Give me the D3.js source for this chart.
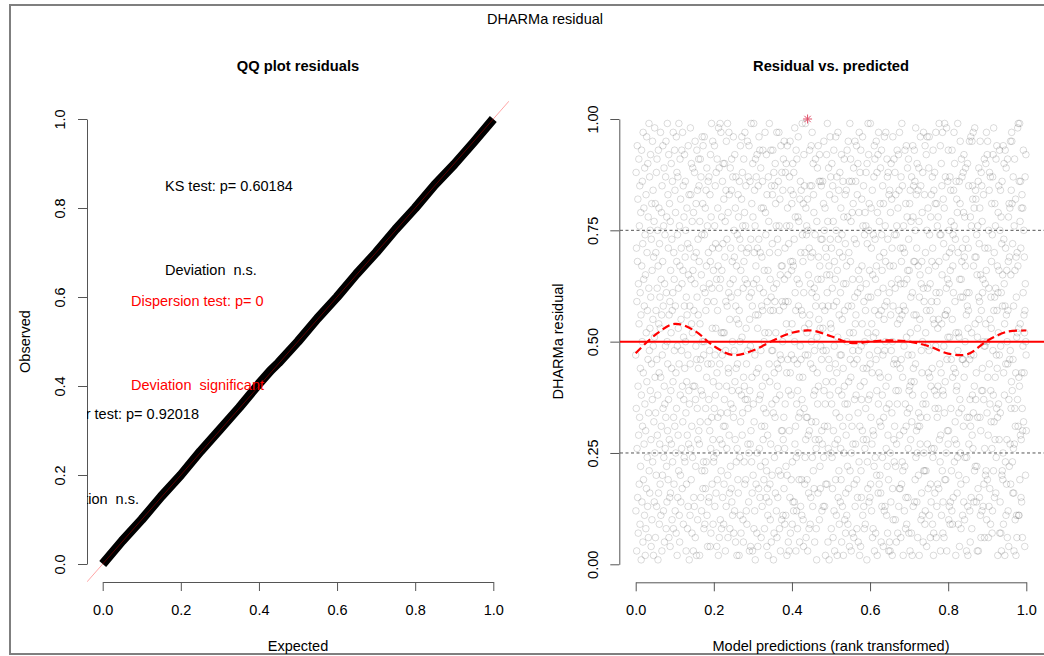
<!DOCTYPE html>
<html lang="en">
<head>
  <meta charset="UTF-8">
  <title>DHARMa residual</title>
  <script src="https://d3js.org/d3.v7.min.js"></script>
  <style>
    body { margin: 0; background: #fff; }
    svg text { font-family: "Liberation Sans", Arial, sans-serif; white-space: pre; }
  </style>
</head>
<body>

  <script>
    ((window, document) => {
      "use strict";

      /**
       * -----------------------------------------------------------------------
       *  Data
       * -----------------------------------------------------------------------
       */
      const TICKS_QQ = [0, 0.2, 0.4, 0.6, 0.8, 1];
      const TICKS_RES_Y = [0, 0.25, 0.5, 0.75, 1];
      const TICKS_RES_X = [0, 0.2, 0.4, 0.6, 0.8, 1];

      // QQ plot: expected vs observed quantiles
      const qqExpected = [0, 0.05, 0.1, 0.15, 0.2, 0.25, 0.3, 0.35, 0.4, 0.43, 0.45,
        0.5, 0.55, 0.6, 0.65, 0.7, 0.75, 0.8, 0.85, 0.9, 0.95, 1];
      const qqObserved = [0, 0.052, 0.1, 0.152, 0.2, 0.253, 0.302, 0.352, 0.405, 0.435, 0.452,
        0.5, 0.552, 0.6, 0.652, 0.7, 0.752, 0.8, 0.852, 0.898, 0.948, 1];

      // test labels in the QQ panel
      const qqLabels = ["KS test: p= 0.60184", "Deviation  n.s.", "Dispersion test: p= 0",
        "Deviation  significant", "Outlier test: p= 0.92018", "Deviation  n.s."];
      const qqLabelColors = ["#000", "#000", "#f00", "#f00", "#000", "#000"];

      // scaled residuals (percent), plotted against rank-transformed predictions
      const residualPctA = [
        47,12,88,35,71,3,59,26,94,68,15,82,40,7,63,29,91,54,18,76,33,85,9,61,44,
        22,79,56,1,38,93,67,14,50,86,31,72,5,97,43,19,64,80,27,58,11,89,36,74,2,
        65,30,8,83,52,17,96,41,70,24,57,13,90,46,78,6,34,62,99,21,48,87,16,53,75,
        39,92,60,28,4,73,45,81,10,66,37,95,23,55,84,49,2,69,32,77,14,51,98,25,42,
        81,6,34,70,57,20,88,13,46,91,62,29,75,38,1,67,93,16,54,80,43,9,72,27,60,
        18,53,97,42,11,64,31,79,56,3,85,47,20,68,94,35,58,12,76,24,89,40,5,63,36,
        74,26,49,87,33,95,8,61,22,78,14,50,99,30,45,83,19,71,37,92,6,56,28,81,15,
        59,4,77,16,66,39,52,90,27,44,73,10,57,86,23,61,41,97,8,33,70,18,64,48,93,
        31,84,12,58,79,25,43,7,96,35,68,88,2,49,74,15,87,29,53,62,21,99,45,11,76,
        5,67,91,38,20,82,14,55,71,48,26,93,63,17,40,97,32,66,85,9,51,37,78,24,58,
        92,44,23,69,86,50,75,34,3,60,18,41,80,56,29,8,72,47,13,94,65,27,39,83,1,
        36,71,58,11,45,98,26,83,64,19,90,54,31,7,77,52,24,89,66,40,3,79,15,57,69,
        13,88,40,63,95,6,37,22,49,81,70,2,46,93,60,35,84,10,28,73,56,44,91,30,85,
        68,27,2,77,54,32,91,46,15,87,39,65,12,74,21,96,50,38,81,17,94,62,23,47,8,
        50,96,74,21,9,61,80,17,35,57,84,23,67,42,89,11,59,76,4,45,32,86,70,14,37,
        87,15,63,48,30,83,4,68,92,26,7,78,45,99,33,62,18,53,71,95,28,9,41,66,23,
        24,59,35,94,76,13,47,85,38,72,53,16,88,25,64,4,43,91,19,57,80,33,67,2,98,
        71,40,89,6,62,45,28,99,10,64,34,97,21,52,8,78,66,27,47,86,15,72,52,90,31,
        9,82,18,52,37,90,69,31,77,3,48,59,84,13,95,40,26,73,58,34,99,20,6,79,44,
        43,61,97,29,83,16,55,8,63,89,22,71,36,60,17,84,91,14,39,68,50,11,87,35,64,
        96,33,7,75,48,69,12,92,41,28,80,5,58,87,44,23,67,55,2,26,74,45,61,19,83,
        16,78,54,39,2,57,86,24,73,50,11,94,32,66,7,71,38,82,96,51,29,88,34,76,10,
        62,5,42,91,68,23,40,79,18,97,64,37,76,19,85,53,12,45,70,9,63,37,95,48,27,
        35,87,71,14,25,94,60,3,55,39,86,27,49,4,73,30,99,61,23,81,42,16,58,3,90,
        78,20,36,63,99,8,32,70,84,12,47,76,1,91,56,67,18,87,43,64,7,92,25,71,53,
        4,56,85,44,17,73,96,37,26,62,93,15,70,38,22,89,48,6,80,31,58,69,13,40,86,
        57,93,28,80,61,35,19,50,66,8,31,52,97,23,79,42,74,34,15,92,21,4,83,59,17,
        29,11,66,2,87,52,77,14,45,99,70,41,18,64,10,57,27,93,60,5,85,48,36,20,72,
        83,48,93,57,34,1,62,88,7,43,24,85,59,33,90,16,81,52,37,76,12,63,97,6,45,
        40,73,15,26,70,86,44,21,97,76,57,8,38,82,47,65,3,20,94,46,67,30,10,88,59,
        67,30,50,84,11,28,91,58,33,17,95,64,26,9,71,36,88,59,11,22,90,54,76,43,2,
        20,94,80,46,65,59,5,39,72,52,3,30,87,76,15,95,43,7,68,84,38,19,47,66,81,
        54,9,23,68,90,14,83,67,12,88,46,73,14,50,98,27,61,78,31,57,3,93,24,12,36,
        91,64,45,8,39,78,25,96,58,33,77,19,63,42,5,82,34,49,86,13,70,46,84,57,19,
        11,37,99,74,56,42,68,10,81,4,61,92,35,85,53,18,70,24,47,99,28,80,6,33,74,
        76,52,19,33,82,3,47,75,29,65,16,54,8,71,30,93,56,85,9,63,45,15,69,94,50,
        32,85,61,97,24,70,13,44,90,21,83,38,79,17,62,48,5,39,74,28,91,58,32,26,8,
        60,1,77,51,43,89,36,64,16,94,40,69,55,28,86,10,92,67,22,53,17,86,49,73,64,
        85,46,30,12,73,27,58,86,53,48,13,81,24,95,39,75,31,13,57,80,36,2,71,18,41,
        48,69,92,65,18,61,99,31,77,5,58,26,89,46,67,1,44,83,65,38,96,73,54,87,25,
      ];
      const residualPctB = [
        53,8,71,36,90,24,62,17,85,41,6,77,30,58,93,12,49,68,3,82,27,64,45,19,96,
        34,75,11,59,43,87,2,66,28,51,97,15,73,39,84,21,56,9,70,33,88,47,14,61,26,
        80,19,47,92,5,38,74,55,13,69,31,86,44,2,63,78,25,91,40,57,10,36,83,72,7,
        16,63,29,84,67,11,50,93,36,22,78,9,58,95,17,41,70,33,86,4,52,99,21,46,68,
        91,42,77,3,25,58,86,31,79,7,64,48,27,81,52,89,6,45,18,73,37,60,95,13,54,
        27,86,56,38,72,94,19,8,46,83,15,61,90,34,5,66,48,79,23,97,64,2,31,88,40,
        62,4,93,21,49,15,37,82,67,54,30,96,11,76,44,28,85,13,59,41,8,74,50,26,79,
        9,57,35,76,88,63,28,44,1,90,72,23,52,17,99,60,37,92,75,14,81,47,66,38,15,
        45,99,18,60,33,80,71,12,54,27,43,84,6,65,30,8,74,51,29,87,22,94,3,57,91,
        73,24,64,7,52,46,95,67,20,39,88,2,79,48,61,92,16,36,97,56,43,18,77,69,32,
        20,81,42,89,16,31,5,57,93,74,13,66,38,24,85,47,62,4,81,33,70,55,12,96,48,
        58,13,76,50,68,97,40,26,35,11,59,91,22,87,7,73,29,88,42,19,3,83,36,61,5,
        84,67,3,25,79,56,14,90,48,63,82,34,71,2,50,17,96,58,10,67,45,28,91,23,74,
        31,46,88,62,10,22,83,39,74,5,27,76,45,93,36,54,7,80,64,39,92,13,57,84,17,
        97,29,55,17,44,71,63,6,87,46,68,18,99,56,23,85,42,21,71,2,58,76,30,49,63,
        12,70,22,93,57,36,8,81,15,31,94,51,9,64,78,34,89,66,15,47,26,91,73,7,39,
        66,35,81,40,3,84,52,28,60,77,41,7,87,32,47,2,61,38,94,78,13,44,85,68,56,
        41,93,14,68,86,19,75,45,98,24,56,83,30,71,14,90,25,53,6,31,84,67,20,34,89,
        77,2,60,31,55,65,27,96,33,85,10,63,48,16,68,43,79,11,50,88,36,5,62,97,21,
        25,59,38,83,21,9,94,12,70,52,36,21,92,57,4,75,33,96,27,62,49,80,17,43,66,
        89,48,96,11,74,42,57,63,6,18,78,40,14,83,59,26,68,44,87,9,71,24,93,55,2,
        7,84,26,54,39,88,16,35,81,67,49,97,61,6,38,81,13,59,33,76,18,53,40,78,35,
        55,17,68,99,28,61,45,74,23,94,3,29,74,43,90,11,54,85,65,21,97,39,7,14,82,
        38,72,49,6,80,34,99,19,56,41,87,56,19,69,25,62,98,3,46,57,30,64,86,51,27,
        93,30,10,75,63,13,70,51,87,9,66,14,84,35,77,46,21,71,12,93,55,9,42,67,74,
        15,61,84,44,97,76,23,90,28,59,32,73,43,2,52,86,39,27,82,40,16,79,24,99,48,
        70,9,52,20,34,51,86,4,64,37,81,95,25,60,18,8,64,91,35,68,87,46,71,11,60,
        46,88,31,79,14,92,42,69,10,78,24,50,67,89,45,73,19,56,3,24,61,33,58,90,13,
        2,53,71,57,85,27,61,33,95,46,12,37,5,78,31,96,47,15,76,52,8,95,29,38,85,
        82,26,97,34,67,47,14,80,40,21,98,69,54,22,84,37,82,69,43,14,74,22,65,3,51,
        33,76,17,86,3,60,89,55,72,15,59,80,33,95,11,65,30,6,88,57,39,85,12,77,44,
        61,39,64,13,50,83,37,18,49,91,6,26,71,49,63,20,54,90,21,66,97,10,50,34,92,
        19,95,42,71,29,6,75,62,13,84,45,88,17,36,55,87,9,39,60,32,53,68,81,26,7,
        74,12,87,48,92,38,21,98,57,32,70,15,60,81,28,42,76,62,16,91,24,47,35,94,57,
        44,67,33,2,61,79,52,36,85,66,28,47,93,7,75,14,34,84,49,7,78,61,3,72,20,
        86,21,58,65,19,25,94,9,43,73,90,63,38,54,2,58,93,23,71,45,11,89,56,18,66,
        28,50,6,91,45,57,12,68,78,4,37,81,22,69,46,80,27,48,95,18,65,35,84,41,97,
        95,81,39,23,72,16,46,87,26,58,16,3,76,27,91,35,66,10,31,82,43,2,69,60,11,
        51,6,70,52,37,98,67,31,99,11,53,42,11,86,40,99,19,77,54,29,86,71,15,28,80,
        14,43,83,35,6,30,80,49,61,93,32,75,56,43,69,52,4,57,87,63,20,50,92,47,30,
      ];

      // outlier marked with a star
      const outlierX = [0.44];
      const outlierY = [1.0];

      // quantile smoother (0.5) along predictions
      const smoothX = [0, 0.05, 0.1, 0.15, 0.2, 0.25, 0.3, 0.35, 0.4, 0.45, 0.5,
        0.55, 0.6, 0.65, 0.7, 0.75, 0.8, 0.85, 0.9, 0.95, 1];
      const smoothY = [0.474, 0.515, 0.54, 0.525, 0.49, 0.47, 0.48, 0.502, 0.52, 0.525, 0.512,
        0.497, 0.5, 0.503, 0.5, 0.49, 0.473, 0.472, 0.502, 0.522, 0.525];

      const quantileLines = [0.25, 0.5, 0.75];


      /**
       * -----------------------------------------------------------------------
       *  Render
       * -----------------------------------------------------------------------
       */
      const W = 1044, H = 656;
      const FONT = "14.5px";
      let svg = d3.select("body").append("svg")
          .attr("width", W)
          .attr("height", H);

      // outer frame (right edge falls outside the picture)
      svg.append("rect")
          .attr("x", 10).attr("y", 5)
          .attr("width", 1060).attr("height", 649)
          .attr("fill", "none")
          .attr("stroke", "#7f7f7f")
          .attr("stroke-width", 2);

      svg.append("text")
          .attr("x", 545).attr("y", 19)
          .attr("dy", "0.35em")
          .attr("text-anchor", "middle")
          .attr("font-size", "14.5px")
          .text("DHARMa residual");

      function panel (opt) {
        let g = svg.append("g");
        let x = d3.scaleLinear().domain([0, 1]).range(opt.xRange);
        let y = d3.scaleLinear().domain([0, 1]).range(opt.yRange);

        g.append("text")
            .attr("x", (opt.xRange[0] + opt.xRange[1]) / 2).attr("y", 65.7)
            .attr("dy", "0.35em")
            .attr("text-anchor", "middle")
            .attr("font-size", "14.7px")
            .attr("font-weight", "bold")
            .text(opt.title);

        let xAxis = g.append("g")
            .attr("transform", `translate(0,${opt.xAxisY})`)
            .call(d3.axisBottom(x).tickValues(opt.xTicks).tickSize(9).tickSizeOuter(0)
              .tickFormat(d3.format(".1f")));
        xAxis.attr("font-size", FONT).attr("font-family", null);
        xAxis.selectAll("text")
            .attr("y", 28).attr("dy", "0.35em")
            .attr("fill", "#000");

        let yAxis = g.append("g")
            .attr("transform", `translate(${opt.yAxisX},0)`)
            .call(d3.axisLeft(y).tickValues(opt.yTicks).tickSize(9).tickSizeOuter(0)
              .tickFormat(opt.yFormat));
        yAxis.attr("font-size", FONT).attr("font-family", null);
        yAxis.selectAll("text")
            .attr("x", 0).attr("dy", "0.35em")
            .attr("text-anchor", "middle")
            .attr("transform", `translate(${opt.yLabelOffset},0) rotate(-90)`)
            .attr("fill", "#000");
        g.selectAll(".domain, .tick line").attr("stroke", "#555");

        g.append("text")
            .attr("x", (opt.xRange[0] + opt.xRange[1]) / 2).attr("y", 645.7)
            .attr("dy", "0.35em")
            .attr("text-anchor", "middle")
            .attr("font-size", FONT)
            .text(opt.xLabel);
        g.append("text")
            .attr("transform", `translate(${opt.yTitleX},341.5) rotate(-90)`)
            .attr("dy", "0.35em")
            .attr("text-anchor", "middle")
            .attr("font-size", FONT)
            .text(opt.yLabel);

        return { g, x, y };
      }

      /* ---------------- QQ plot ---------------- */
      let qq = panel({
        title: "QQ plot residuals",
        xRange: [102.7, 493.3], yRange: [564, 119],
        xAxisY: 582, yAxisX: 87, yLabelOffset: -27, yTitleX: 25,
        xTicks: TICKS_QQ, yTicks: TICKS_QQ, yFormat: d3.format(".1f"),
        xLabel: "Expected", yLabel: "Observed",
      });

      svg.append("clipPath").attr("id", "clip-qq")
        .append("rect")
          .attr("x", 87).attr("y", 101)
          .attr("width", 422).attr("height", 481);

      let qqPlot = qq.g.append("g").attr("clip-path", "url(#clip-qq)");

      let qqLine = d3.line()
          .x(i => qq.x(qqExpected[i]))
          .y(i => qq.y(qqObserved[i]));
      qqPlot.append("path")
          .attr("d", qqLine(d3.range(qqExpected.length)))
          .attr("fill", "none")
          .attr("stroke", "#000")
          .attr("stroke-width", 9)
          .attr("stroke-linejoin", "round");

      // 1:1 reference line across the plot region
      qqPlot.append("line")
          .attr("x1", qq.x(-0.04)).attr("y1", qq.y(-0.04))
          .attr("x2", qq.x(1.04)).attr("y2", qq.y(1.04))
          .attr("stroke", "#f00")
          .attr("stroke-opacity", 0.45)
          .attr("stroke-width", 0.8);

      // [left-or-right x, centre y, anchor]
      const qqLabelPos = [
        [165, 186, "start"], [165, 270, "start"], [131, 300.5, "start"],
        [131, 385, "start"], [199, 414, "end"], [139, 499, "end"],
      ];
      qqPlot.selectAll("text.test")
        .data(qqLabels)
        .join("text")
          .attr("class", "test")
          .attr("x", (d, i) => qqLabelPos[i][0])
          .attr("y", (d, i) => qqLabelPos[i][1])
          .attr("dy", "0.35em")
          .attr("text-anchor", (d, i) => qqLabelPos[i][2])
          .attr("font-size", FONT)
          .attr("fill", (d, i) => qqLabelColors[i])
          .text(d => d);

      /* ---------------- Residual vs. predicted ---------------- */
      let rv = panel({
        title: "Residual vs. predicted",
        xRange: [635.7, 1026.3], yRange: [564.3, 119],
        xAxisY: 582.3, yAxisX: 619.3, yLabelOffset: -26, yTitleX: 558,
        xTicks: TICKS_RES_X, yTicks: TICKS_RES_Y, yFormat: d3.format(".2f"),
        xLabel: "Model predictions (rank transformed)", yLabel: "DHARMa residual",
      });

      const residualPct = residualPctA.concat(residualPctB);
      const n = residualPct.length;
      rv.g.append("g")
        .selectAll("circle")
        .data(residualPct)
        .join("circle")
          .attr("cx", (d, i) => rv.x(i / (n - 1)))
          .attr("cy", d => rv.y(d / 100))
          .attr("r", 3.3)
          .attr("fill", "none")
          .attr("stroke", "#000")
          .attr("stroke-opacity", 0.14)
          .attr("stroke-width", 1);

      rv.g.selectAll("line.q")
        .data(quantileLines)
        .join("line")
          .attr("class", "q")
          .attr("x1", 620).attr("x2", 1044)
          .attr("y1", d => rv.y(d)).attr("y2", d => rv.y(d))
          .attr("stroke", d => d === 0.5 ? "#f00" : "#555")
          .attr("stroke-width", d => d === 0.5 ? 2 : 1)
          .attr("stroke-dasharray", d => d === 0.5 ? null : "3,2.5");

      let smoothLine = d3.line()
          .x(i => rv.x(smoothX[i]))
          .y(i => rv.y(smoothY[i]))
          .curve(d3.curveCatmullRom);
      rv.g.append("path")
          .attr("d", smoothLine(d3.range(smoothX.length)))
          .attr("fill", "none")
          .attr("stroke", "#f00")
          .attr("stroke-width", 2.2)
          .attr("stroke-dasharray", "8,4");

      // pch 8 star for outliers
      outlierX.forEach((ox, i) => {
        let cx = rv.x(ox), cy = rv.y(outlierY[i]), r = 4.5;
        let star = rv.g.append("g").attr("stroke", "#e0506a").attr("stroke-width", 1);
        [[r, 0], [0, r], [r * 0.71, r * 0.71], [r * 0.71, -r * 0.71]].forEach(([dx, dy]) => {
          star.append("line")
              .attr("x1", cx - dx).attr("y1", cy - dy)
              .attr("x2", cx + dx).attr("y2", cy + dy);
        });
      });

    })(window, document);
  </script>

</body>
</html>
